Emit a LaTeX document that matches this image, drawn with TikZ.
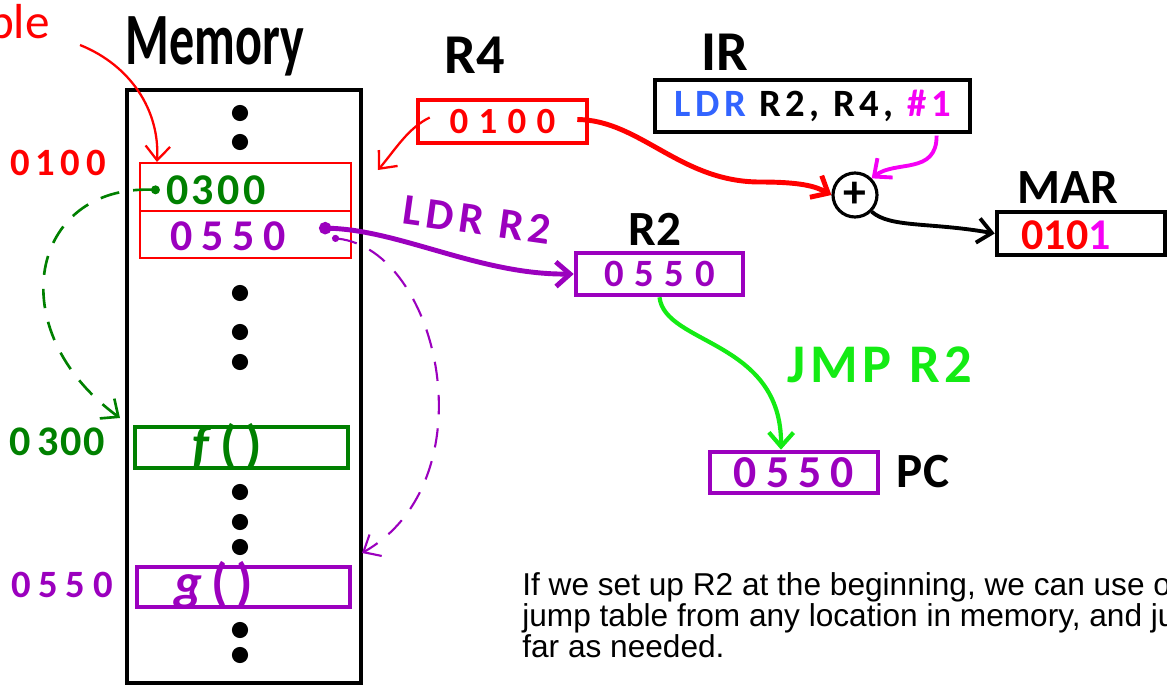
\documentclass[tikz,border=0pt]{standalone}
\usepackage{fontspec}
\setmainfont{Liberation Sans}
\newfontfamily\handfont{Carlito}
\usetikzlibrary{calc,arrows.meta}
\setlength{\lineskiplimit}{-20pt}

\definecolor{memred}{RGB}{255,0,0}
\definecolor{dkgreen}{RGB}{0,128,0}
\definecolor{purp}{RGB}{155,0,190}
\definecolor{ldrblue}{RGB}{50,100,255}
\definecolor{imm}{RGB}{245,0,245}
\definecolor{jmpgreen}{RGB}{20,235,20}

\newcommand\ls[2]{{\addfontfeature{LetterSpace=#1}#2}}

\begin{document}
\begin{tikzpicture}[x=0.02cm, y=-0.02cm,
  sz/.style 2 args={minimum width=#1*0.02cm, minimum height=#2*0.02cm},
  reg/.style={draw, line width=2.6pt, inner sep=0pt},
  hand/.style={inner sep=0pt, font=\handfont\bfseries\fontsize{#1}{#1}\selectfont},
  tip/.style={-{Straight Barb[length=8pt, width=14pt]}}]

  \useasboundingbox (0,0) rectangle (1167,687);

  % 内存整体
  \node[reg, sz={234}{593}] (mem) at (244,386.5) {};
  \node[hand=30, anchor=base] (memlbl) at (215,64) {\scalebox{0.95}[1.4]{Memory}};

  % 省略号点
  \foreach \y in {113,142,293,332,362,492,522,547,630,655}
    \fill (240,\y) circle[radius=4.6pt];

  % 跳转表的两个槽（红框）
  \node[draw=memred, line width=1.2pt, sz={211}{48}, inner sep=0pt] (slotA) at (245.5,187) {};
  \node[draw=memred, line width=1.2pt, sz={211}{47}, inner sep=0pt] (slotB) at (245.5,234.5) {};
  \node[hand=25, dkgreen] (v0300) at (216,190) {\ls{8}{0300}};
  \node[hand=25, purp] (v0550) at (228,236) {\ls{20}{0550}};

  % 函数 f() 和 g()
  \node[draw=dkgreen, line width=2.2pt, sz={213}{41}, inner sep=0pt] (fbox) at (241.5,447.5) {};
  \node[hand=30, dkgreen] (ftxt) at (227,447) {\textit{f}\,(\,)};
  \node[draw=purp, line width=2.2pt, sz={213}{40}, inner sep=0pt] (gbox) at (243.5,587) {};
  \node[hand=30, purp] (gtxt) at (214,585) {\textit{g}\,(\,)};

  % 左侧地址
  \node[hand=22, memred] (a0100) at (58,163) {\ls{15}{0100}};
  \node[hand=24, dkgreen] (a0300) at (57,442) {0\,\ls{4}{300}};
  \node[hand=22, purp] (a0550) at (62,585) {\ls{20}{0550}};

  % 左上角的“表”标注（被截断）
  \node[inner sep=0pt, anchor=east, memred, font=\handfont\fontsize{28}{28}\selectfont] (tbl) at (50,22) {ble};
  \coordinate (tblp) at (80,45);

  % 寄存器 R4
  \node[hand=32, anchor=base] (r4lbl) at (475,73) {R4};
  \node[reg, sz={169}{43}, hand=21, memred] (r4) at (502.5,121.5) {\ls{28}{0100}};

  % 指令寄存器 IR
  \node[hand=32, anchor=base] (irlbl) at (725,70) {IR};
  \node[draw, line width=1.8pt, sz={315}{52}, hand=22] (ir) at (812.5,106)
    {\ls{12}{\textcolor{ldrblue}{LDR} R2, R4, \textcolor{imm}{\#1}}};

  % 加法器
  \node[circle, draw, line width=1.8pt, minimum size=44*0.02cm, hand=26] (plus) at (855,195) {+};

  % MAR
  \node[hand=28, anchor=base] (marlbl) at (1068,203) {MAR};
  \node[reg, sz={168}{43}] (mar) at (1081,233.5) {};
  \node[hand=25] (marval) at (1066,235) {\textcolor{memred}{010}\textcolor{imm}{1}};

  % R2
  \node[hand=28, anchor=base] (r2lbl) at (655,245) {R2};
  \node[reg, sz={167}{42}, hand=22, purp] (r2) at (659.5,274) {\ls{28}{0550}};

  % PC
  \node[reg, sz={168}{41}, hand=26, purp] (pc) at (794,472.5) {\ls{20}{0550}};
  \node[hand=28, anchor=base] (pclbl) at (923,487) {PC};

  % 连线标注
  \node[hand=25, purp, rotate=-8] (ldrlbl) at (477,220) {\ls{12}{LDR R2}};
  \node[hand=31, jmpgreen, anchor=base] (jmplbl) at (880,382) {\ls{9}{JMP R2}};

  \coordinate (slotptr) at (378,170);
  \coordinate (fin) at (120,418);
  \coordinate (gin) at (362,553);

  % ---- 连线 ----
  \draw[memred, line width=1.3pt, tip] (tblp) .. controls (130,65) and (160,110) .. ($(slotA.north west)+(18,0)$);
  \draw[memred, line width=1.3pt, tip] ($(r4.west)+(14,-4)$) .. controls (408,128) and (395,150) .. (slotptr);
  \draw[memred, line width=2.8pt, tip] ($(r4.east)+(-12,-2)$) .. controls (640,120) and (680,182) .. (760,182)
    .. controls (800,182) and (815,186) .. (plus.west);
  \draw[imm, line width=2.2pt, tip] ($(ir.south east)+(-35,2)$) .. controls (937,175) and (895,160) .. (plus.north east);
  \draw[line width=2.2pt, tip] (plus.south east) .. controls (890,228) and (930,222) .. (mar.west);

  \draw[dkgreen, line width=1.5pt, dash pattern=on 11pt off 8pt, {Circle[length=5pt]}-{Straight Barb[length=8pt, width=14pt]}]
    ($(v0300.west)+(-6,0)$) .. controls (30,185) and (0,330) .. (fin);
  \draw[purp, line width=2.8pt, {Circle[length=7pt]}-{Straight Barb[length=8pt, width=14pt]}]
    ($(v0550.east)+(33,-8)$) .. controls (400,230) and (480,275) .. (r2.west);
  \draw[purp, line width=1.2pt, dash pattern=on 11pt off 8pt, {Circle[length=4pt]}-{Straight Barb[length=8pt, width=14pt]}]
    ($(v0550.east)+(46,2)$) .. controls (440,250) and (490,480) .. (gin);
  \draw[jmpgreen, line width=2.4pt, tip] (r2.south) .. controls (665,345) and (782,340) .. ($(pc.north)+(-13,0)$);

  % 说明文字
  \node[anchor=north west, inner sep=0pt, align=left,
    font=\fontsize{18}{17.6}\selectfont] (note) at (522,572)
    {If we set up R2 at the beginning, we can use our\\
     jump table from any location in memory, and jump as\\
     far as needed.};

\end{tikzpicture}
\end{document}
